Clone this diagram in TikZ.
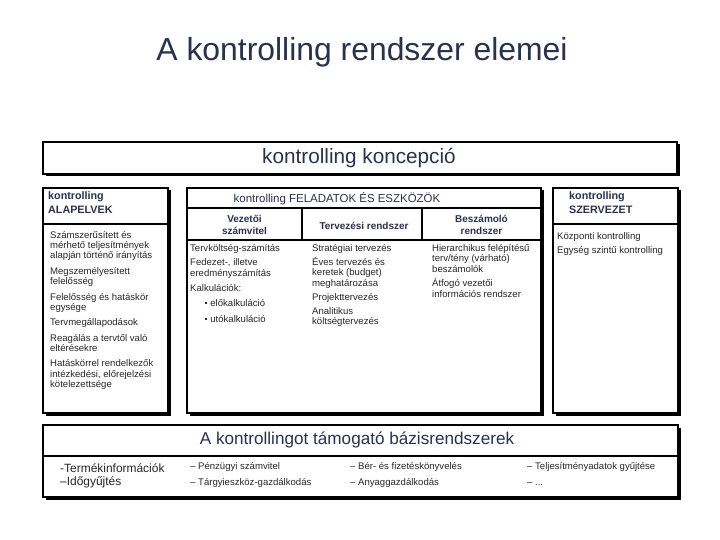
\documentclass[tikz,border=0pt]{standalone}
\usepackage{fontspec}
\setmainfont{Liberation Sans}
\usepackage{xcolor}
\usetikzlibrary{shadows, positioning}
\definecolor{navy}{HTML}{27324F}
\tikzstyle{panel} = [draw=black, line width=1.6bp, fill=white,
drop shadow={shadow xshift=2.5bp, shadow yshift=-2.5bp, fill=black, opacity=1}]
\tikzstyle{rule} = [line width=1.2bp]
\tikzstyle{head} = [text=navy, inner sep=0pt]
\tikzstyle{body} = [text=black!85, inner sep=0pt, align=left,
font=\fontsize{9.6}{10.4}\selectfont]
\newcommand{\sqbullet}{\hspace*{15bp}\rule[2bp]{2.2bp}{2.2bp}\hspace{3bp}}

\begin{document}
\begin{tikzpicture}[x=1bp, y=-1bp]
        \useasboundingbox (0,0) rectangle (720,540);
        \node[head, font=\fontsize{32}{36}\selectfont] (title) at (362,52) {A kontrolling rendszer elemei};

        % koncepcio
        \draw[panel] (43,142) rectangle (677,174);
        \node[head, font=\fontsize{20.8}{24}\selectfont] (koncepcio) at (359,158) {kontrolling koncepció};

        % alapelvek
        \draw[panel] (43,188) rectangle (168,413);
        \draw[rule] (43,224) -- (168,224);
        \node[head, anchor=north west, align=left, font=\bfseries\fontsize{10.8}{14}\selectfont] (alapelvek) at (48,192) {kontrolling\\ALAPELVEK};
        \node[body, anchor=north west] (elvek) at (50,231) {Számszerűsített és\\mérhető teljesítmények\\alapján történő irányítás\\[5bp]
            Megszemélyesített\\felelősség\\[5bp]
            Felelősség és hatáskör\\egysége\\[5bp]
            Tervmegállapodások\\[5bp]
            Reagálás a tervtől való\\eltérésekre\\[5bp]
            Hatáskörrel rendelkezők\\intézkedési, előrejelzési\\kötelezettsége};

        % feladatok es eszkozok
        \draw[panel] (187,188) rectangle (541,413);
        \draw[rule] (187,208) -- (541,208);
        \draw[rule] (187,240) -- (541,240);
        \draw[rule] (302,208) -- (302,240);
        \draw[rule] (422,208) -- (422,240);
        \node[head, font=\fontsize{11.5}{13}\selectfont] (feladatok) at (337,199) {kontrolling FELADATOK ÉS ESZKÖZÖK};
        \node[head, align=center, font=\bfseries\fontsize{10}{12}\selectfont] (szamvitel) at (244.5,225) {Vezetői\\számvitel};
        \node[head, align=center, font=\bfseries\fontsize{10}{12}\selectfont] (tervezes) at (364,226) {Tervezési rendszer};
        \node[head, align=center, font=\bfseries\fontsize{10}{12}\selectfont] (beszamolo) at (481.5,225) {Beszámoló\\rendszer};
        \node[body, anchor=north west, font=\fontsize{9.6}{10.6}\selectfont] (szamvitellista) at (190,244) {Tervköltség-számítás\\[4bp]
            Fedezet-, illetve\\eredményszámítás\\[5bp]
            Kalkulációk:\\[4bp]
            \sqbullet előkalkuláció\\[5bp]
            \sqbullet utókalkuláció};
        \node[body, anchor=north west, font=\fontsize{9.6}{10.8}\selectfont] (tervezeslista) at (312,244) {Stratégiai tervezés\\[3bp]
            Éves tervezés és\\keretek (budget)\\meghatározása\\[3bp]
            Projekttervezés\\[3bp]
            Analitikus\\költségtervezés};
        \node[body, anchor=north west, font=\fontsize{9.6}{10.6}\selectfont] (beszamololista) at (432,244) {Hierarchikus felépítésű\\terv/tény (várható)\\beszámolók\\[4bp]
            Átfogó vezetői\\információs rendszer};

        % szervezet
        \draw[panel] (553,188) rectangle (678,413);
        \draw[rule] (553,224) -- (678,224);
        \node[head, anchor=north west, align=left, font=\bfseries\fontsize{10.8}{14}\selectfont] (szervezet) at (569,192) {kontrolling\\SZERVEZET};
        \node[body, anchor=north west] (szervezetlista) at (557,232) {Központi kontrolling\\[3.6bp]Egység szintű kontrolling};

        % bazisrendszerek
        \draw[panel] (43,425) rectangle (678,497);
        \draw[rule] (43,456) -- (678,456);
        \node[head, font=\fontsize{17.2}{20}\selectfont] (bazis) at (357,440) {A kontrollingot támogató bázisrendszerek};
        \node[body, anchor=north west, font=\fontsize{12}{14}\selectfont] (termek) at (60,463) {-Termékinformációk\\–Időgyűjtés};
        \node[body, anchor=north west] (penzugy) at (190,462) {– Pénzügyi számvitel\\[5.6bp]– Tárgyieszköz-gazdálkodás};
        \node[body, anchor=north west] (ber) at (350,462) {– Bér- és fizetéskönyvelés\\[5.6bp]– Anyaggazdálkodás};
        \node[body, anchor=north west] (teljesitmeny) at (527,462) {– Teljesítményadatok gyűjtése\\[5.6bp]– ...};
    \end{tikzpicture}
\end{document}
